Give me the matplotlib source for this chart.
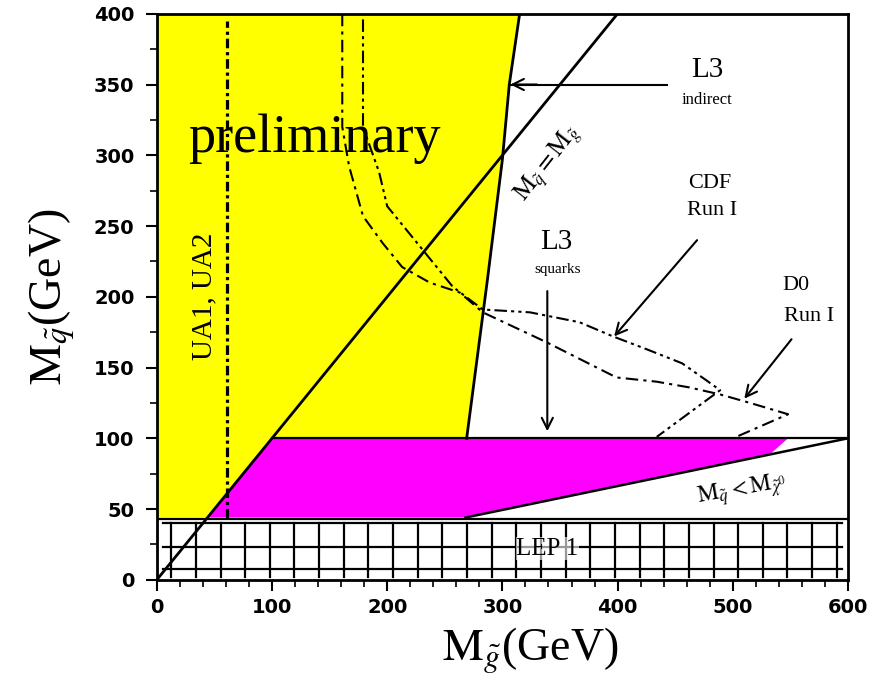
import numpy as np
import matplotlib
matplotlib.use("Agg")
import matplotlib.pyplot as plt
from matplotlib.patches import FancyArrowPatch

plt.rcParams['font.serif'] = ['Liberation Serif', 'DejaVu Serif']
plt.rcParams['mathtext.fontset'] = 'stix'

# excluded regions (GeV): yellow = L3 indirect, magenta = L3 squarks
yellow_x = [0, 44, 100, 269, 287, 300, 306, 315, 0]
yellow_y = [44, 44, 100, 100, 212, 297, 350, 400, 400]
magenta_x = [44, 100, 548, 532, 268]
magenta_y = [44, 100, 100, 88.5, 44]

# yellow boundary line
bound_x = [269, 287, 300, 306, 315]
bound_y = [100, 212, 297, 350, 400]

# M_q < M_chi line
chi_x = [268, 600]
chi_y = [44, 100]

# CDF Run I contour
cdf_x = [179, 179, 193, 200, 226, 257, 283, 324, 367, 396, 425, 456, 477, 489, 469, 434]
cdf_y = [396, 320, 288, 264, 238, 207, 191, 189, 182, 172, 163, 153, 141, 134, 122, 101]

# D0 Run I contour
d0_x = [161, 161, 167, 179, 196, 213, 237, 263, 283, 338, 399, 434, 462, 489, 515, 548, 503]
d0_y = [400, 320, 292, 257, 238, 221, 210, 203, 189, 168, 143, 140, 136, 131, 125, 117, 101]

# UA1, UA2 limit
ua_x = [61, 61]
ua_y = [44, 395]

lep_top = 43.3
lep_h_lines = [40.5, 23.3, 7.8]

fig = plt.figure(figsize=(8.76, 6.87), dpi=100)
ax = fig.add_axes([0.179, 0.156, 0.789, 0.824])

ax.fill(yellow_x, yellow_y, color='#FFFF00', lw=0, zorder=1)
ax.fill(magenta_x, magenta_y, color='#FF00FF', lw=0, zorder=1)

# LEP 1 box with grid
ax.plot([0, 600], [lep_top, lep_top], color='k', lw=1.6, zorder=3)
for yy in lep_h_lines:
    ax.plot([5, 595], [yy, yy], color='k', lw=1.6, zorder=3)
for xx in np.arange(12.5, 595, 21.4):
    ax.plot([xx, xx], [2.1, 40.5], color='k', lw=1.6, zorder=3)
ax.text(339, 22, 'LEP 1', fontsize=18, family='serif', ha='center', va='center',
        zorder=4, bbox=dict(facecolor='white', edgecolor='none', pad=0.2, alpha=0.6))

# boundaries
ax.plot([0, 400], [0, 400], color='k', lw=2, zorder=5)
ax.plot(bound_x, bound_y, color='k', lw=2, zorder=5)
ax.plot([100, 600], [100, 100], color='k', lw=1.6, zorder=5)
ax.plot(chi_x, chi_y, color='k', lw=1.8, zorder=5)
ax.plot(ua_x, ua_y, color='k', lw=2.3, ls=(0, (3, 1.2, 1, 1.2)), zorder=5)
ax.plot(cdf_x, cdf_y, color='k', lw=1.5, ls=(0, (6, 2, 1.5, 2, 1.5, 2)), zorder=5)
ax.plot(d0_x, d0_y, color='k', lw=1.5, ls=(0, (6, 2.5, 1.5, 2.5)), zorder=5)

# arrows
def arrow(x0, y0, x1, y1):
    ax.add_patch(FancyArrowPatch((x0, y0), (x1, y1), arrowstyle='->,head_length=8,head_width=4',
                                 color='k', lw=1.5, zorder=6, shrinkA=0, shrinkB=0,
                                 mutation_scale=1))

ax.plot([306, 443], [350, 350], color='k', lw=1.5, zorder=6)
arrow(330, 350, 307, 350)
arrow(339, 204, 339, 105)
arrow(469, 240, 397, 172)
arrow(551, 170, 510, 128)

# labels
ax.text(137, 302, 'preliminary', fontsize=39, family='serif', ha='center',
        va='baseline', zorder=7)
ax.text(41.5, 200, 'UA1, UA2', fontsize=21, family='serif', rotation=90,
        ha='center', va='center', zorder=7)
ax.text(340, 294, r'$\mathrm{M}_{\tilde{q}} = \mathrm{M}_{\tilde{g}}$', fontsize=18,
        rotation=52, ha='center', va='center', zorder=7)
ax.text(478, 360, 'L3', fontsize=21, family='serif', ha='center', va='center')
ax.text(478, 339, 'indirect', fontsize=12, family='serif', ha='center', va='center')
ax.text(480, 280, 'CDF', fontsize=16, family='serif', ha='center', va='center')
ax.text(482, 261, 'Run I', fontsize=16, family='serif', ha='center', va='center')
ax.text(555, 208, 'D0', fontsize=16, family='serif', ha='center', va='center')
ax.text(566, 186, 'Run I', fontsize=16, family='serif', ha='center', va='center')
ax.text(347, 239, 'L3', fontsize=21, family='serif', ha='center', va='center')
ax.text(348, 219, 'squarks', fontsize=11, family='serif', ha='center', va='center')
ax.text(508, 63, r'$\mathrm{M}_{\tilde{q}} < \mathrm{M}_{\tilde{\chi}^0}$', fontsize=17,
        rotation=10, ha='center', va='center')

ax.set_xlim(0, 600)
ax.set_ylim(0, 400)
ax.set_xticks(np.arange(0, 601, 100))
ax.set_xticks(np.arange(0, 601, 20), minor=True)
ax.set_yticks(np.arange(0, 401, 50))
ax.set_yticks(np.arange(0, 401, 25), minor=True)
ax.tick_params(which='major', direction='out', length=8, width=1.5, labelsize=14)
ax.tick_params(which='minor', direction='out', length=5, width=1.2)
ax.tick_params(axis='y', pad=8)
ax.tick_params(axis='x', pad=5)
for lab in ax.get_xticklabels() + ax.get_yticklabels():
    lab.set_fontweight('bold')
for sp in ax.spines.values():
    sp.set_linewidth(2)
    sp.set_zorder(8)

ax.set_xlabel(r'$\mathrm{M}_{\tilde{g}}$(GeV)', fontsize=33, family='serif')
ax.set_ylabel(r'$\mathrm{M}_{\tilde{q}}$(GeV)', fontsize=33, family='serif', labelpad=12)
ax.xaxis.set_label_coords(0.54, -0.08)

fig.savefig('out.png', dpi=100)
